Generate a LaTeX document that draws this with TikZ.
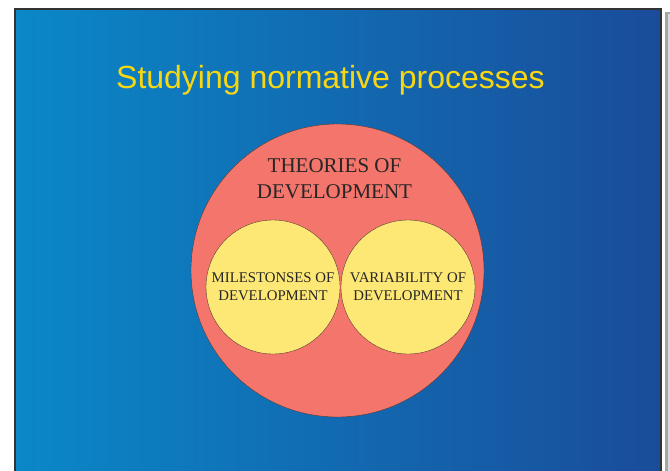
\documentclass[tikz,border=0pt]{standalone}
\usepackage{fontspec}
\setmainfont{Liberation Serif}
\newfontfamily\titlefont{Liberation Sans}
\usepackage{tikz}
\usetikzlibrary{positioning,calc}
\definecolor{slideleft}{HTML}{0A88C8}
\definecolor{slideright}{HTML}{1A4C9A}
\definecolor{titleyellow}{HTML}{F7D712}
\definecolor{theorycol}{HTML}{F4756C}
\definecolor{innercol}{HTML}{FDE775}
\definecolor{edgecol}{HTML}{5A3A30}

\begin{document}
\begin{tikzpicture}[x=1pt,y=-1pt]
			\useasboundingbox (0,0) rectangle (670,471);
			% slide with shadow
			\fill[black!35] (665,12) rectangle (670,471);
			\fill[black!15] (668,14) rectangle (670,471);
			\shade[left color=slideleft,right color=slideright,draw=black!80,line width=2pt] (15,9) rectangle (661,480);
			\node[text=titleyellow,font=\titlefont\fontsize{32}{38}\selectfont] (title) at (330.5,80) {Studying normative processes};
			
			\node[shape=circle,draw=edgecol,fill=theorycol,minimum size=293pt,inner sep=0pt] (theories) at (337.5,270.5) {};
			\node[align=center,text=black!85,font=\fontsize{21}{26}\selectfont] (theories-text) at (334.5,179) {THEORIES OF\\DEVELOPMENT};
			\node[shape=circle,draw=edgecol,fill=innercol,minimum size=134pt,inner sep=0pt,align=center,text=black!85,font=\fontsize{14.8}{18}\selectfont] (milestones) at (273,287) {MILESTONSES OF\\DEVELOPMENT};
			\node[shape=circle,draw=edgecol,fill=innercol,minimum size=134pt,inner sep=0pt,align=center,text=black!85,font=\fontsize{14.8}{18}\selectfont] (variability) at (408,287) {VARIABILITY OF\\DEVELOPMENT};
\end{tikzpicture}
\end{document}
